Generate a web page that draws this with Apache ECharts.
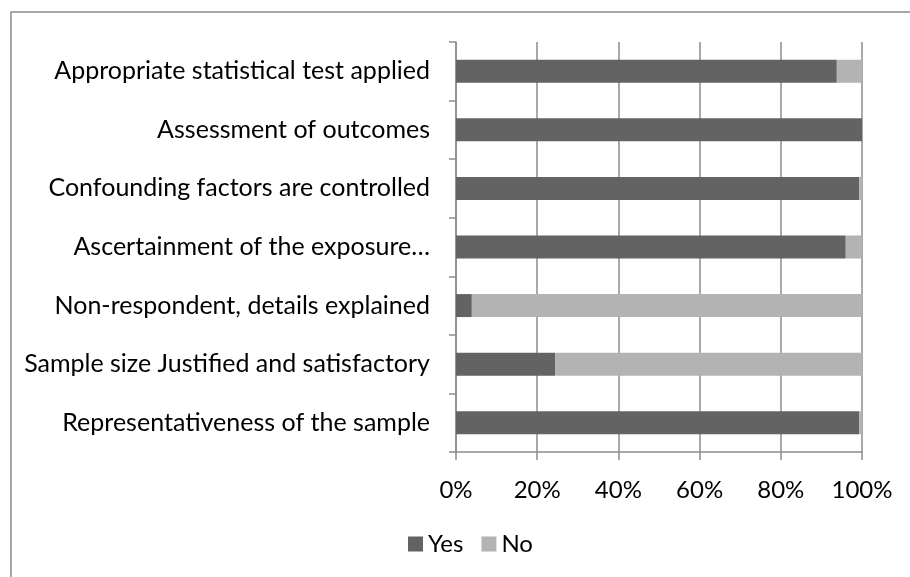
<!DOCTYPE html>
<html>
<head>
<meta charset="utf-8">
<script src="https://cdn.jsdelivr.net/npm/echarts@6/dist/echarts.min.js"></script>
<style>
    html, body { margin: 0; padding: 0; background: #fff; }
    #chart { width: 910px; height: 577px; }
</style>
</head>
<body>
<div id="chart"></div>
<script>
    var categories = [
        'Appropriate statistical test applied',
        'Assessment of outcomes',
        'Confounding factors are controlled',
        'Ascertainment of the exposure\u2026',
        'Non-respondent, details explained',
        'Sample size Justified and satisfactory',
        'Representativeness of the sample'
    ];
    var yesData = [93.8, 100, 99.3, 96, 3.9, 24.4, 99.3];
    var noData = [6.2, 0, 0.7, 4, 96.1, 75.6, 0.7];
    var xTicks = [0, 20, 40, 60, 80, 100];

    var axisGray = '#8c8c8c';
    var font = 'Lato';

    var chart = echarts.init(document.getElementById('chart'));
    var option = {
        animation: false,
        textStyle: { fontFamily: font },
        graphic: [{
            type: 'rect',
            shape: { x: 11, y: 12, width: 940, height: 620 },
            style: { fill: 'none', stroke: axisGray, lineWidth: 1.5 },
            silent: true
        }],
        grid: { left: 456, right: 48, top: 42, bottom: 125 },
        legend: {
            data: ['Yes', 'No'],
            top: 527,
            left: 403,
            itemWidth: 15,
            itemHeight: 15,
            itemGap: 18,
            icon: 'rect',
            textStyle: { fontSize: 24, color: '#000', fontFamily: font }
        },
        xAxis: {
            type: 'value',
            min: xTicks[0],
            max: xTicks[xTicks.length - 1],
            interval: 20,
            axisLine: { show: true, lineStyle: { color: axisGray, width: 1.5 } },
            axisTick: { show: true, length: 8, lineStyle: { color: axisGray, width: 1.5 } },
            splitLine: { show: true, lineStyle: { color: axisGray, width: 1.5 } },
            axisLabel: { formatter: '{value}%', fontSize: 24, color: '#000', margin: 26, fontFamily: font }
        },
        yAxis: {
            type: 'category',
            data: categories,
            inverse: true,
            axisLine: { show: true, lineStyle: { color: axisGray, width: 1.5 } },
            axisTick: { show: true, length: 7, lineStyle: { color: axisGray, width: 1.5 } },
            axisLabel: { fontSize: 25, color: '#000', margin: 26, fontFamily: font }
        },
        series: [
            {
                name: 'Yes',
                type: 'bar',
                stack: 'total',
                barWidth: 23,
                itemStyle: { color: '#636363' },
                data: yesData
            },
            {
                name: 'No',
                type: 'bar',
                stack: 'total',
                barWidth: 23,
                itemStyle: { color: '#b3b3b3' },
                data: noData
            }
        ]
    };
    chart.setOption(option);
</script>
</body>
</html>
